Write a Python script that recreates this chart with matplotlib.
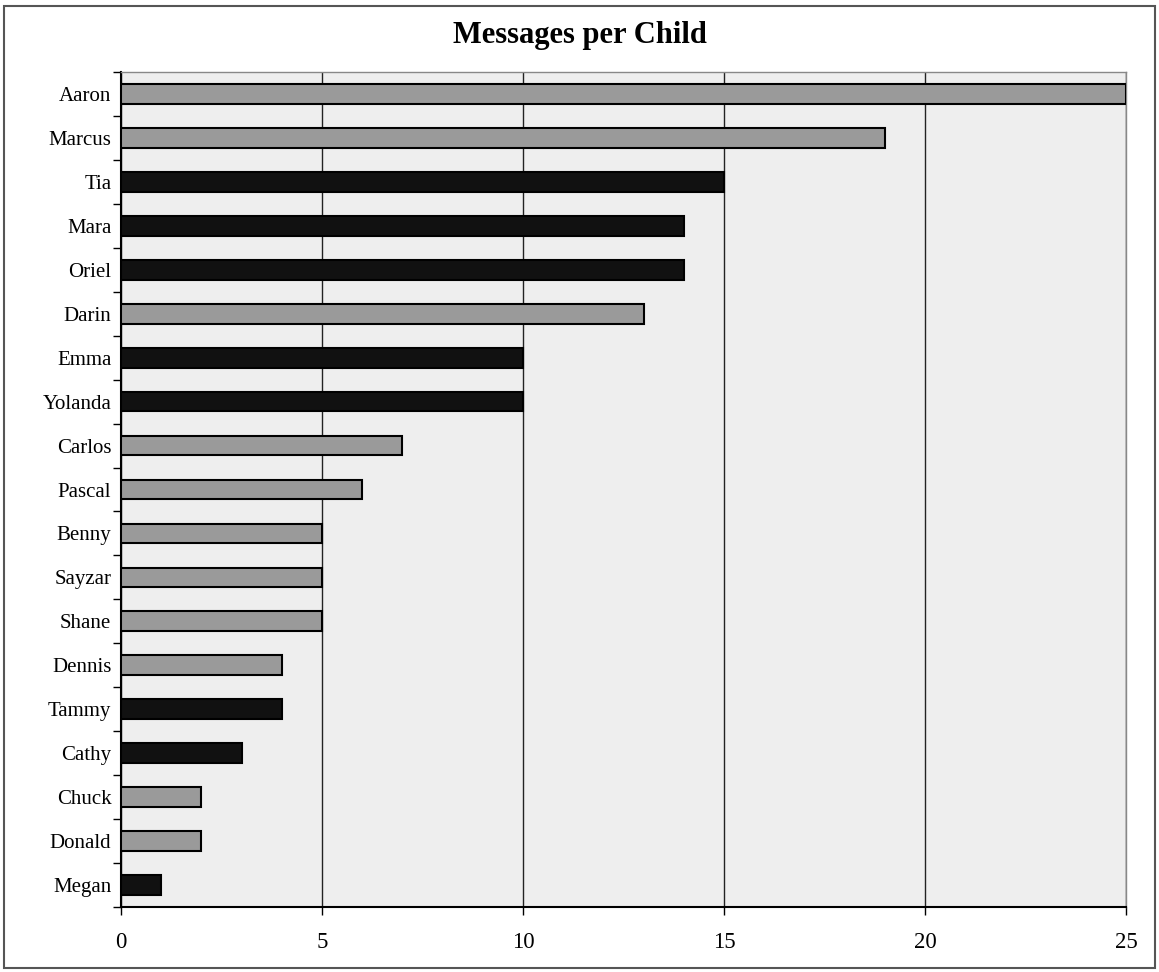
import matplotlib
matplotlib.use("Agg")
import matplotlib.pyplot as plt
from matplotlib.patches import Rectangle
import numpy as np

names = ["Aaron", "Marcus", "Tia", "Mara", "Oriel", "Darin", "Emma", "Yolanda",
         "Carlos", "Pascal", "Benny", "Sayzar", "Shane", "Dennis", "Tammy",
         "Cathy", "Chuck", "Donald", "Megan"]
messages = [25, 19, 15, 14, 14, 13, 10, 10, 7, 6, 5, 5, 5, 4, 4, 3, 2, 2, 1]
gender = ["M", "M", "F", "F", "F", "M", "F", "F", "M", "M", "M", "M", "M", "M",
          "F", "F", "M", "M", "F"]
x_ticks = [0, 5, 10, 15, 20, 25]

plt.rcParams['font.family'] = ['Liberation Serif', 'DejaVu Serif']

fig = plt.figure(figsize=(11.59, 9.72), dpi=100)
ax = fig.add_axes([121/1159, 1-907/972, (1126-121)/1159, (907-72)/972])

colors = ["#9a9a9a" if g == "M" else "#111111" for g in gender]
y = np.arange(len(names))
ax.barh(y, messages, height=0.45, color=colors, edgecolor="black", linewidth=1.5, zorder=3)

ax.set_ylim(len(names) - 0.5, -0.5)
ax.set_xlim(0, 25)
ax.set_facecolor("#eeeeee")

ax.set_yticks(y)
ax.set_yticklabels(names, fontsize=15)
ax.set_yticks(np.arange(len(names) + 1) - 0.5, minor=True)
ax.tick_params(axis="y", which="major", length=0, pad=7)
ax.tick_params(axis="y", which="minor", length=6, width=1, direction="out")

ax.set_xticks(x_ticks)
ax.set_xticklabels([str(v) for v in x_ticks], fontsize=16.5)
ax.tick_params(axis="x", length=6, width=1, direction="out", pad=12)

ax.grid(axis="x", color="#222222", linewidth=1, zorder=1)
for side in ["left", "bottom"]:
    ax.spines[side].set_linewidth(1.5)
for side in ["top", "right"]:
    ax.spines[side].set_color("#888888")
    ax.spines[side].set_linewidth(1)

fig.text(0.5, 1 - 35/972, "Messages per Child", ha="center", va="center",
         fontsize=22, fontweight="bold")

fig.patches.append(Rectangle((4/1159, 1-968/972), (1155-4)/1159, (968-6)/972,
                             transform=fig.transFigure, fill=False,
                             edgecolor="#555555", linewidth=1.5))

fig.savefig("out.png", dpi=100)
